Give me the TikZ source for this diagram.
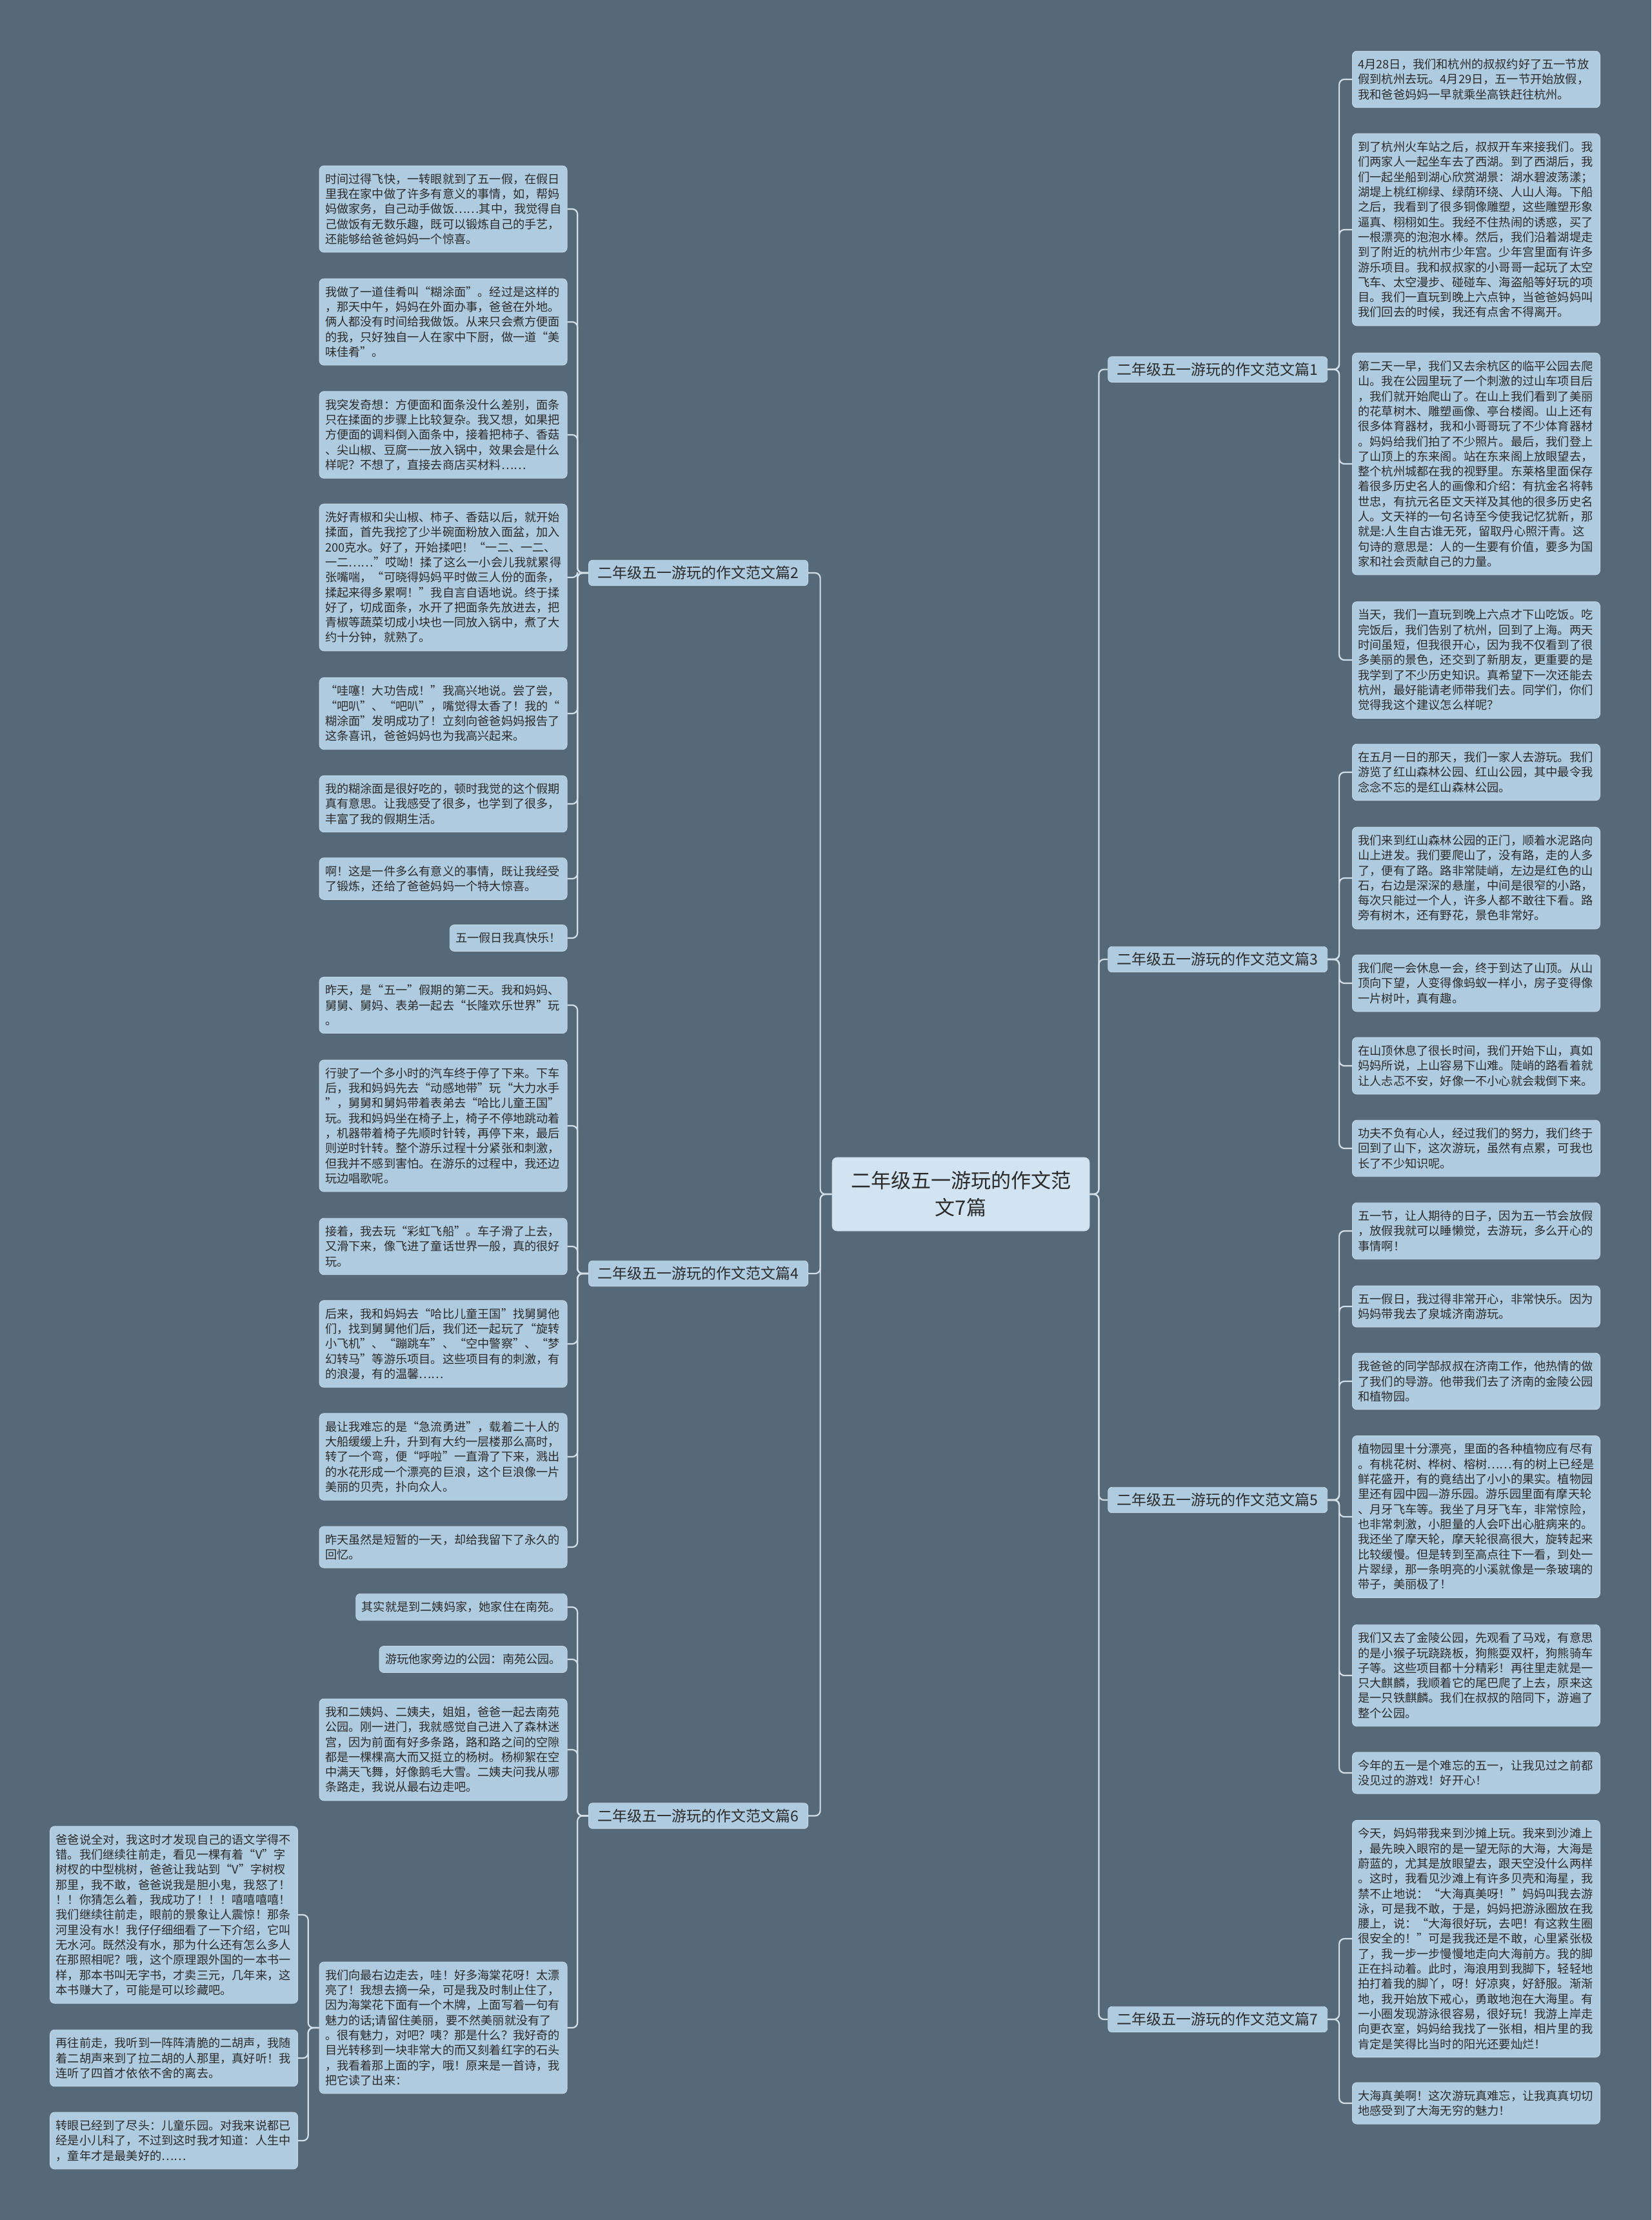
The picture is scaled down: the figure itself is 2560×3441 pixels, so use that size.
\documentclass[tikz,border=0pt]{standalone}
\usepackage{fontspec}
\newfontfamily\cjk{Noto Sans CJK SC}
\definecolor{bg}{HTML}{556978}
\definecolor{leaf}{HTML}{AFCBE0}
\definecolor{leafedge}{HTML}{C4D8E8}
\definecolor{rootc}{HTML}{D2E4F1}
\definecolor{linec}{HTML}{D3DFE8}
\definecolor{txt}{HTML}{2B2B2B}
\tikzset{
  box/.style={fill=leaf, draw=leafedge, line width=0.8pt, rounded corners=7pt, text=txt,
    font=\cjk\fontsize{18.2}{23.3}\selectfont, inner xsep=9pt, inner ysep=12pt, align=left},
  para/.style={box, text width=366pt},
  branch/.style={fill=leaf, draw=leafedge, line width=0.8pt, rounded corners=6pt, text=txt,
    font=\cjk\fontsize{23}{28}\selectfont, minimum width=340pt, minimum height=39.5pt, inner sep=0pt},
  root/.style={fill=rootc, draw=leafedge, line width=0.8pt, rounded corners=8pt, text=txt, align=center,
    font=\cjk\fontsize{31}{42}\selectfont, minimum width=399pt, minimum height=114pt, inner sep=0pt},
  link/.style={draw=linec, line width=2.2pt, rounded corners=8pt}
}
\begin{document}
\begin{tikzpicture}[x=1pt,y=-1pt]
\fill[bg] (0,0) rectangle (2560,3441);
\useasboundingbox (0,0) rectangle (2560,3441);

% root and branches
\node[root] (root) at (1489.5,1851) {二年级五一游玩的作文范\\文7篇};
\node[branch] (b1) at (1887.7,572.6) {二年级五一游玩的作文范文篇1};
\node[branch] (b3) at (1887.7,1487) {二年级五一游玩的作文范文篇3};
\node[branch] (b5) at (1887.7,2325) {二年级五一游玩的作文范文篇5};
\node[branch] (b7) at (1887.7,3130) {二年级五一游玩的作文范文篇7};
\node[branch] (b2) at (1082.6,888) {二年级五一游玩的作文范文篇2};
\node[branch] (b4) at (1082.6,1974) {二年级五一游玩的作文范文篇4};
\node[branch] (b6) at (1082.6,2814.5) {二年级五一游玩的作文范文篇6};

% ---------- left: 篇2 ----------
\node[para, anchor=east] (l21) at (879.5,324) {时间过得飞快，一转眼就到了五一假，在假日\\里我在家中做了许多有意义的事情，如，帮妈\\妈做家务，自己动手做饭……其中，我觉得自\\己做饭有无数乐趣，既可以锻炼自己的手艺，\\还能够给爸爸妈妈一个惊喜。};
\node[para, anchor=east] (l22) at (879.5,499) {我做了一道佳肴叫“糊涂面”。经过是这样的\\，那天中午，妈妈在外面办事，爸爸在外地。\\俩人都没有时间给我做饭。从来只会煮方便面\\的我，只好独自一人在家中下厨，做一道“美\\味佳肴”。};
\node[para, anchor=east] (l23) at (879.5,674) {我突发奇想：方便面和面条没什么差别，面条\\只在揉面的步骤上比较复杂。我又想，如果把\\方便面的调料倒入面条中，接着把柿子、香菇\\、尖山椒、豆腐一一放入锅中，效果会是什么\\样呢？不想了，直接去商店买材料……};
\node[para, anchor=east] (l24) at (879.5,895) {洗好青椒和尖山椒、柿子、香菇以后，就开始\\揉面，首先我挖了少半碗面粉放入面盆，加入\\200克水。好了，开始揉吧！“一二、一二、\\一二……”哎呦！揉了这么一小会儿我就累得\\张嘴喘，“可晓得妈妈平时做三人份的面条，\\揉起来得多累啊！”我自言自语地说。终于揉\\好了，切成面条，水开了把面条先放进去，把\\青椒等蔬菜切成小块也一同放入锅中，煮了大\\约十分钟，就熟了。};
\node[para, anchor=east] (l25) at (879.5,1106) {“哇噻！大功告成！”我高兴地说。尝了尝，\\“吧叭”、“吧叭”，嘴觉得太香了！我的“\\糊涂面”发明成功了！立刻向爸爸妈妈报告了\\这条喜讯，爸爸妈妈也为我高兴起来。};
\node[para, anchor=east] (l26) at (879.5,1246) {我的糊涂面是很好吃的，顿时我觉的这个假期\\真有意思。让我感受了很多，也学到了很多，\\丰富了我的假期生活。};
\node[para, anchor=east] (l27) at (879.5,1362) {啊！这是一件多么有意义的事情，既让我经受\\了锻炼，还给了爸爸妈妈一个特大惊喜。};
\node[box, anchor=east] (l28) at (879.5,1454) {五一假日我真快乐！};

% ---------- left: 篇4 ----------
\node[para, anchor=east] (l41) at (879.5,1558) {昨天，是“五一”假期的第二天。我和妈妈、\\舅舅、舅妈、表弟一起去“长隆欢乐世界”玩\\。};
\node[para, anchor=east] (l42) at (879.5,1745) {行驶了一个多小时的汽车终于停了下来。下车\\后，我和妈妈先去“动感地带”玩“大力水手\\”，舅舅和舅妈带着表弟去“哈比儿童王国”\\玩。我和妈妈坐在椅子上，椅子不停地跳动着\\，机器带着椅子先顺时针转，再停下来，最后\\则逆时针转。整个游乐过程十分紧张和刺激，\\但我并不感到害怕。在游乐的过程中，我还边\\玩边唱歌呢。};
\node[para, anchor=east] (l43) at (879.5,1932) {接着，我去玩“彩虹飞船”。车子滑了上去，\\又滑下来，像飞进了童话世界一般，真的很好\\玩。};
\node[para, anchor=east] (l44) at (879.5,2083) {后来，我和妈妈去“哈比儿童王国”找舅舅他\\们，找到舅舅他们后，我们还一起玩了“旋转\\小飞机”、“蹦跳车”、“空中警察”、“梦\\幻转马”等游乐项目。这些项目有的刺激，有\\的浪漫，有的温馨……};
\node[para, anchor=east] (l45) at (879.5,2258) {最让我难忘的是“急流勇进”，载着二十人的\\大船缓缓上升，升到有大约一层楼那么高时，\\转了一个弯，便“呼啦”一直滑了下来，溅出\\的水花形成一个漂亮的巨浪，这个巨浪像一片\\美丽的贝壳，扑向众人。};
\node[para, anchor=east] (l46) at (879.5,2398) {昨天虽然是短暂的一天，却给我留下了永久的\\回忆。};

% ---------- left: 篇6 ----------
\node[box, anchor=east] (l61) at (879.5,2491) {其实就是到二姨妈家，她家住在南苑。};
\node[box, anchor=east] (l62) at (879.5,2572) {游玩他家旁边的公园：南苑公园。};
\node[para, anchor=east] (l63) at (879.5,2712) {我和二姨妈、二姨夫，姐姐，爸爸一起去南苑\\公园。刚一进门，我就感觉自己进入了森林迷\\宫，因为前面有好多条路，路和路之间的空隙\\都是一棵棵高大而又挺立的杨树。杨柳絮在空\\中满天飞舞，好像鹅毛大雪。二姨夫问我从哪\\条路走，我说从最右边走吧。};
\node[para, anchor=east] (l64) at (879.5,3143) {我们向最右边走去，哇！好多海棠花呀！太漂\\亮了！我想去摘一朵，可是我及时制止住了，\\因为海棠花下面有一个木牌，上面写着一句有\\魅力的话;请留住美丽，要不然美丽就没有了\\。很有魅力，对吧？咦？那是什么？我好奇的\\目光转移到一块非常大的而又刻着红字的石头\\，我看着那上面的字，哦！原来是一首诗，我\\把它读了出来：};
\node[para, anchor=east] (s1) at (462,2968) {爸爸说全对，我这时才发现自己的语文学得不\\错。我们继续往前走，看见一棵有着“V”字\\树杈的中型桃树，爸爸让我站到“V”字树杈\\那里，我不敢，爸爸说我是胆小鬼，我怒了！\\！！你猜怎么着，我成功了！！！嘻嘻嘻嘻！\\我们继续往前走，眼前的景象让人震惊！那条\\河里没有水！我仔仔细细看了一下介绍，它叫\\无水河。既然没有水，那为什么还有怎么多人\\在那照相呢？哦，这个原理跟外国的一本书一\\样，那本书叫无字书，才卖三元，几年来，这\\本书赚大了，可能是可以珍藏吧。};
\node[para, anchor=east] (s2) at (462,3190) {再往前走，我听到一阵阵清脆的二胡声，我随\\着二胡声来到了拉二胡的人那里，真好听！我\\连听了四首才依依不舍的离去。};
\node[para, anchor=east] (s3) at (462,3318) {转眼已经到了尽头：儿童乐园。对我来说都已\\经是小儿科了，不过到这时我才知道：人生中\\，童年才是最美好的……};

% ---------- right: 篇1 ----------
\node[para, anchor=west] (r11) at (2096,123) {4月28日，我们和杭州的叔叔约好了五一节放\\假到杭州去玩。4月29日，五一节开始放假，\\我和爸爸妈妈一早就乘坐高铁赶往杭州。};
\node[para, anchor=west] (r12) at (2096,356) {到了杭州火车站之后，叔叔开车来接我们。我\\们两家人一起坐车去了西湖。到了西湖后，我\\们一起坐船到湖心欣赏湖景：湖水碧波荡漾；\\湖堤上桃红柳绿、绿荫环绕、人山人海。下船\\之后，我看到了很多铜像雕塑，这些雕塑形象\\逼真、栩栩如生。我经不住热闹的诱惑，买了\\一根漂亮的泡泡水棒。然后，我们沿着湖堤走\\到了附近的杭州市少年宫。少年宫里面有许多\\游乐项目。我和叔叔家的小哥哥一起玩了太空\\飞车、太空漫步、碰碰车、海盗船等好玩的项\\目。我们一直玩到晚上六点钟，当爸爸妈妈叫\\我们回去的时候，我还有点舍不得离开。};
\node[para, anchor=west] (r13) at (2096,719) {第二天一早，我们又去余杭区的临平公园去爬\\山。我在公园里玩了一个刺激的过山车项目后\\，我们就开始爬山了。在山上我们看到了美丽\\的花草树木、雕塑画像、亭台楼阁。山上还有\\很多体育器材，我和小哥哥玩了不少体育器材\\。妈妈给我们拍了不少照片。最后，我们登上\\了山顶上的东来阁。站在东来阁上放眼望去，\\整个杭州城都在我的视野里。东莱格里面保存\\着很多历史名人的画像和介绍：有抗金名将韩\\世忠，有抗元名臣文天祥及其他的很多历史名\\人。文天祥的一句名诗至今使我记忆犹新，那\\就是:人生自古谁无死，留取丹心照汗青。这\\句诗的意思是：人的一生要有价值，要多为国\\家和社会贡献自己的力量。};
\node[para, anchor=west] (r14) at (2096,1023) {当天，我们一直玩到晚上六点才下山吃饭。吃\\完饭后，我们告别了杭州，回到了上海。两天\\时间虽短，但我很开心，因为我不仅看到了很\\多美丽的景色，还交到了新朋友，更重要的是\\我学到了不少历史知识。真希望下一次还能去\\杭州，最好能请老师带我们去。同学们，你们\\觉得我这个建议怎么样呢？};

% ---------- right: 篇3 ----------
\node[para, anchor=west] (r31) at (2096,1197) {在五月一日的那天，我们一家人去游玩。我们\\游览了红山森林公园、红山公园，其中最令我\\念念不忘的是红山森林公园。};
\node[para, anchor=west] (r32) at (2096,1361) {我们来到红山森林公园的正门，顺着水泥路向\\山上进发。我们要爬山了，没有路，走的人多\\了，便有了路。路非常陡峭，左边是红色的山\\石，右边是深深的悬崖，中间是很窄的小路，\\每次只能过一个人，许多人都不敢往下看。路\\旁有树木，还有野花，景色非常好。};
\node[para, anchor=west] (r33) at (2096,1524) {我们爬一会休息一会，终于到达了山顶。从山\\顶向下望，人变得像蚂蚁一样小，房子变得像\\一片树叶，真有趣。};
\node[para, anchor=west] (r34) at (2096,1652) {在山顶休息了很长时间，我们开始下山，真如\\妈妈所说，上山容易下山难。陡峭的路看着就\\让人忐忑不安，好像一不小心就会栽倒下来。};
\node[para, anchor=west] (r35) at (2096,1780) {功夫不负有心人，经过我们的努力，我们终于\\回到了山下，这次游玩，虽然有点累，可我也\\长了不少知识呢。};

% ---------- right: 篇5 ----------
\node[para, anchor=west] (r51) at (2096,1908) {五一节，让人期待的日子，因为五一节会放假\\，放假我就可以睡懒觉，去游玩，多么开心的\\事情啊！};
\node[para, anchor=west] (r52) at (2096,2025) {五一假日，我过得非常开心，非常快乐。因为\\妈妈带我去了泉城济南游玩。};
\node[para, anchor=west] (r53) at (2096,2141) {我爸爸的同学郜叔叔在济南工作，他热情的做\\了我们的导游。他带我们去了济南的金陵公园\\和植物园。};
\node[para, anchor=west] (r54) at (2096,2351) {植物园里十分漂亮，里面的各种植物应有尽有\\。有桃花树、桦树、榕树……有的树上已经是\\鲜花盛开，有的竟结出了小小的果实。植物园\\里还有园中园—游乐园。游乐园里面有摩天轮\\、月牙飞车等。我坐了月牙飞车，非常惊险，\\也非常刺激，小胆量的人会吓出心脏病来的。\\我还坐了摩天轮，摩天轮很高很大，旋转起来\\比较缓慢。但是转到至高点往下一看，到处一\\片翠绿，那一条明亮的小溪就像是一条玻璃的\\带子，美丽极了！};
\node[para, anchor=west] (r55) at (2096,2597) {我们又去了金陵公园，先观看了马戏，有意思\\的是小猴子玩跷跷板，狗熊耍双杆，狗熊骑车\\子等。这些项目都十分精彩！再往里走就是一\\只大麒麟，我顺着它的尾巴爬了上去，原来这\\是一只铁麒麟。我们在叔叔的陪同下，游遍了\\整个公园。};
\node[para, anchor=west] (r56) at (2096,2748) {今年的五一是个难忘的五一，让我见过之前都\\没见过的游戏！好开心！};

% ---------- right: 篇7 ----------
\node[para, anchor=west] (r71) at (2096,3005) {今天，妈妈带我来到沙摊上玩。我来到沙滩上\\，最先映入眼帘的是一望无际的大海，大海是\\蔚蓝的，尤其是放眼望去，跟天空没什么两样\\。这时，我看见沙滩上有许多贝壳和海星，我\\禁不止地说：“大海真美呀！”妈妈叫我去游\\泳，可是我不敢，于是，妈妈把游泳圈放在我\\腰上，说：“大海很好玩，去吧！有这救生圈\\很安全的！”可是我我还是不敢，心里紧张极\\了，我一步一步慢慢地走向大海前方。我的脚\\正在抖动着。此时，海浪用到我脚下，轻轻地\\拍打着我的脚丫，呀！好凉爽，好舒服。渐渐\\地，我开始放下戒心，勇敢地泡在大海里。有\\一小圈发现游泳很容易，很好玩！我游上岸走\\向更衣室，妈妈给我找了一张相，相片里的我\\肯定是笑得比当时的阳光还要灿烂！};
\node[para, anchor=west] (r72) at (2096,3260) {大海真美啊！这次游玩真难忘，让我真真切切\\地感受到了大海无穷的魅力！};

% ---------- connectors ----------
\foreach \b in {b2,b4,b6}
  \draw[link] (root.west) -- ++(-18,0) |- (\b.east);
\foreach \b in {b1,b3,b5,b7}
  \draw[link] (root.east) -- ++(14,0) |- (\b.west);
\foreach \l in {l21,l22,l23,l24,l25,l26,l27,l28}
  \draw[link] (b2.west) -- ++(-17,0) |- (\l.east);
\foreach \l in {l41,l42,l43,l44,l45,l46}
  \draw[link] (b4.west) -- ++(-17,0) |- (\l.east);
\foreach \l in {l61,l62,l63,l64}
  \draw[link] (b6.west) -- ++(-17,0) |- (\l.east);
\foreach \l in {s1,s2,s3}
  \draw[link] (l64.west) -- ++(-17,0) |- (\l.east);
\foreach \l in {r11,r12,r13,r14}
  \draw[link] (b1.east) -- ++(18,0) |- (\l.west);
\foreach \l in {r31,r32,r33,r34,r35}
  \draw[link] (b3.east) -- ++(18,0) |- (\l.west);
\foreach \l in {r51,r52,r53,r54,r55,r56}
  \draw[link] (b5.east) -- ++(18,0) |- (\l.west);
\foreach \l in {r71,r72}
  \draw[link] (b7.east) -- ++(18,0) |- (\l.west);
\end{tikzpicture}
\end{document}
